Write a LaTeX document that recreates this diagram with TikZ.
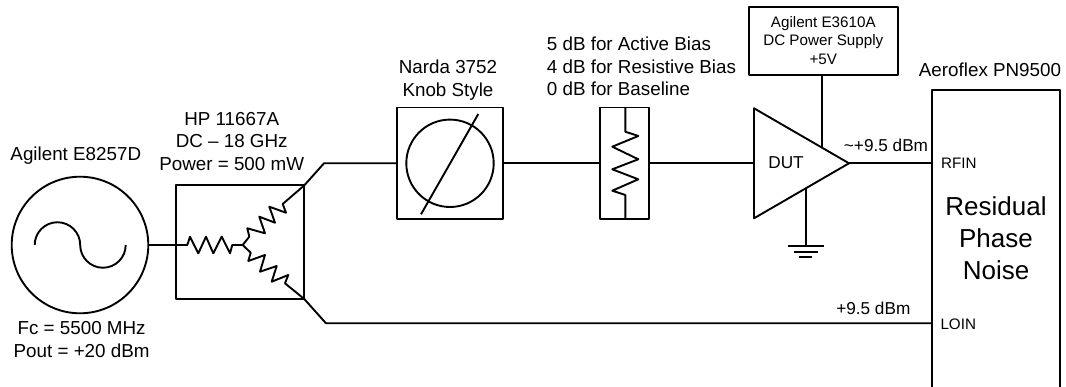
\documentclass[tikz,border=0pt]{standalone}
\usepackage{fontspec}
\setmainfont{Liberation Sans}
\tikzset{
	wire/.style={line width=1.9pt, line join=round, black},
	block/.style={wire, draw, inner sep=0pt, outer sep=0pt},
	biglabel/.style={inner sep=0pt, align=center, font=\fontsize{18.8}{22.6}\selectfont},
	powerlabel/.style={inner sep=0pt, align=center, font=\fontsize{17.2}{20}\selectfont},
	smalllabel/.style={inner sep=0pt, align=center, font=\fontsize{15.2}{18.6}\selectfont},
	hugelabel/.style={inner sep=0pt, align=center, font=\fontsize{26}{32.2}\selectfont}
}

\begin{document}
\begin{tikzpicture}[x=1pt, y=-1pt]
	\useasboundingbox (0,0) rectangle (1066,387);

	% Signal generator
	\node[block, circle, minimum size=136.6pt] (source) at (80,245) {};
	\draw[wire] (34.7,245) arc (180:360:22.75) arc (180:0:22.75);
	\node[biglabel] (sourcename) at (75.8,155.7) {Agilent E8257D};
	\node[biglabel] (sourceinfo) at (81.6,339.4) {Fc = 5500 MHz\\Pout = +20 dBm};

	% Power splitter
	\node[block, minimum width=128pt, minimum height=113.7pt] (splitter) at (240.3,242.2) {};
	\node[biglabel] (splittername) at (231.7,141.5) {HP 11667A\\DC -- 18 GHz\\Power = 500 mW};
	\coordinate (splitin) at (187.3,245);
	\coordinate (junction) at (242.7,245);
	\coordinate (splittop) at (splitter.north east);
	\coordinate (splitbot) at (splitter.south east);
	\draw[wire] (source.east) -- (splitin) -- (190,236.7) -- (198.3,253.3) -- (206,236.7) -- (213.3,253.3)
		-- (221.7,236.7) -- (230,253.3) -- (232.3,245) -- (junction);
	\draw[wire] (junction) -- (249.3,236.7) -- (247.3,228.3) -- (265,233.3) -- (259.3,216.7) -- (275,222.7)
		-- (269.3,206.7) -- (286,212.7) -- (282.7,204) -- (splittop);
	\draw[wire] (junction) -- (250.7,252.7) -- (248.3,261) -- (265,255) -- (260,271.7) -- (276.7,266)
		-- (271.7,281.7) -- (288.3,275) -- (285,283.3) -- (splitbot);

	% Phase shifter
	\node[block, minimum width=106.6pt, minimum height=111.6pt] (shifter) at (450,163.3) {};
	\node[block, circle, minimum size=87.4pt] (knob) at (450,163.3) {};
	\draw[wire] (421,214.3) -- (478.3,114);
	\node[biglabel] (shiftername) at (448,80.3) {Narda 3752\\Knob Style};

	% Attenuator
	\node[block, minimum width=49pt, minimum height=111.6pt] (atten) at (624.8,163.3) {};
	\draw[wire] (625.3,107.7) -- (625.3,131.7) -- (638.3,136) -- (612.3,146.7) -- (638.3,159.3) -- (612.3,169.3)
		-- (638.3,179.3) -- (612.3,190.7) -- (625.3,195) -- (625.3,219.1);
	\node[biglabel, align=left, anchor=west] (attenname) at (546.7,66.6) {5 dB for Active Bias\\4 dB for Resistive Bias\\0 dB for Baseline};

	% Amplifier
	\coordinate (dutin) at (754,163.3);
	\coordinate (dutout) at (849,163.3);
	\coordinate (dutvcc) at (822.3,147.9);
	\coordinate (dutgnd) at (806,188.1);
	\draw[wire] (754,108.3) -- (dutout) -- (754,218.3) -- cycle;
	\node[powerlabel] (dut) at (786,163) {DUT};

	% Supply
	\node[block, minimum width=149.3pt, minimum height=67.7pt] (supply) at (823.6,41.2) {};
	\node[smalllabel] (supplyname) at (823.3,40.3) {Agilent E3610A\\DC Power Supply\\+5V};
	\draw[wire] (supply.south -| dutvcc) -- (dutvcc);

	% Ground
	\coordinate (gnd) at (806,245.7);
	\draw[wire] (dutgnd) -- (gnd);
	\draw[wire] (788,245.7) -- (823.8,245.7);
	\draw[wire] (793.7,252.3) -- (818.3,252.3);
	\draw[wire] (799.3,257.3) -- (812.3,257.3);

	% Analyzer, runs off the bottom
	\coordinate (rfin) at (931.7,163.3);
	\coordinate (loin) at (931.7,323.3);
	\draw[wire] (931.7,395) -- (931.7,89.7) -- (1060,89.7) -- (1060,395);
	\node[biglabel] (analyzername) at (990,70) {Aeroflex PN9500};
	\node[hugelabel] (analyzertext) at (996,238.3) {Residual\\Phase\\Noise};
	\node[smalllabel, anchor=west] (rflabel) at (941,163) {RFIN};
	\node[smalllabel, anchor=west] (lolabel) at (940.3,324) {LOIN};

	% Connections
	\draw[wire] (splittop) -- (324,163.3) -- (shifter.west);
	\draw[wire] (shifter.east) -- (atten.west);
	\draw[wire] (atten.east) -- (dutin);
	\draw[wire] (dutout) -- (rfin);
	\draw[wire] (splitbot) -- (326,323.3) -- (loin);

	% Levels
	\node[powerlabel] (rflevel) at (886,145.7) {\textasciitilde+9.5 dBm};
	\node[powerlabel] (lolevel) at (873.3,308.3) {+9.5 dBm};
\end{tikzpicture}
\end{document}
